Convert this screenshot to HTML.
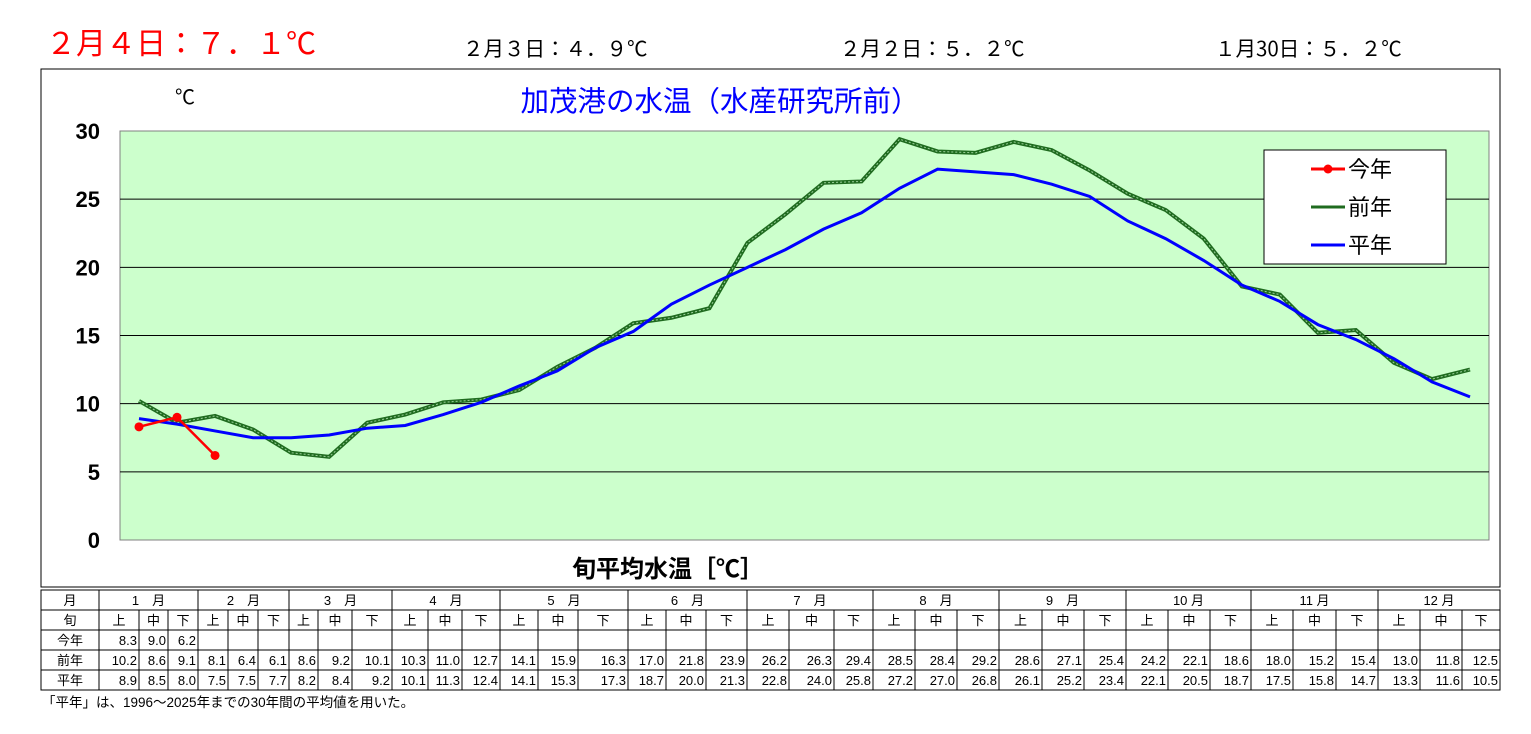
<!DOCTYPE html>
<html><head><meta charset="utf-8">
<style>
body{margin:0;background:#fff;font-family:"Liberation Sans","Noto Sans CJK JP",sans-serif;}
#wrap{position:relative;width:1531px;height:734px;overflow:hidden;}
.t{position:absolute;white-space:nowrap;font-family:"Noto Sans CJK JP",sans-serif;}
</style></head><body>
<div id="wrap">
<div class="t" style="left:46px;top:19px;font-size:30px;line-height:44px;color:#ff0000;">２月４日：７．１℃</div>
<div class="t" style="left:463px;top:32px;font-size:20.5px;line-height:30px;">２月３日：４．９℃</div>
<div class="t" style="left:840px;top:32px;font-size:20.5px;line-height:30px;">２月２日：５．２℃</div>
<div class="t" style="left:1215px;top:32px;font-size:20.5px;line-height:30px;">１月30日：５．２℃</div>
<svg id="chart" width="1531" height="734" style="position:absolute;left:0;top:0" font-family="Liberation Sans, Noto Sans CJK JP, sans-serif"></svg>
</div>
<script>
const yTicks=[0,5,10,15,20,25,30];
const months=["1　月","2　月","3　月","4　月","5　月","6　月","7　月","8　月","9　月","10 月","11 月","12 月"];
const junList=["上","中","下"];
const thisYear=[8.3,9.0,6.2];
const lastYear=[10.2,8.6,9.1,8.1,6.4,6.1,8.6,9.2,10.1,10.3,11.0,12.7,14.1,15.9,16.3,17.0,21.8,23.9,26.2,26.3,29.4,28.5,28.4,29.2,28.6,27.1,25.4,24.2,22.1,18.6,18.0,15.2,15.4,13.0,11.8,12.5];
const normal=[8.9,8.5,8.0,7.5,7.5,7.7,8.2,8.4,9.2,10.1,11.3,12.4,14.1,15.3,17.3,18.7,20.0,21.3,22.8,24.0,25.8,27.2,27.0,26.8,26.1,25.2,23.4,22.1,20.5,18.7,17.5,15.8,14.7,13.3,11.6,10.5];
const colEdges=[99,139,168,198,228,258,289,318,352,392,428,462,500,538,578,628,666,706,747,789,834,873,915,957,999,1042,1084,1126,1168,1210,1251,1293,1336,1378,1420,1462,1500];

const NS="http://www.w3.org/2000/svg";
const svg=document.getElementById('chart');
function mk(tag,attrs,parent){const e=document.createElementNS(NS,tag);for(const k in attrs)e.setAttribute(k,attrs[k]);(parent||svg).appendChild(e);return e;}
const PX0=120,PX1=1489,PY0=131,PY1=540;
const yS=v=>PY1-(v/30)*(PY1-PY0);
const xS=i=>139+i*(1470-139)/35;

let e=mk('rect',{x:41,y:69,width:1459,height:518,fill:'#fff',stroke:'#000','stroke-width':1});


e=mk('rect',{x:PX0,y:PY0,width:PX1-PX0,height:PY1-PY0,fill:'#ccffcc',stroke:'#808080','stroke-width':1});


yTicks.forEach(v=>{
  if(v>0&&v<30){const g=mk('line',{x1:PX0,x2:PX1,y1:yS(v),y2:yS(v),stroke:'#000','stroke-width':1});
  
  }
  const t=mk('text',{x:100,y:yS(v)+8,'text-anchor':'end','font-size':22,'font-weight':'bold'});t.textContent=v;
  
  
});
e=mk('text',{x:175,y:104,'font-size':20});e.textContent='℃';


e=mk('text',{x:720,y:111,'text-anchor':'middle','font-size':28.5,fill:'#0000ff'});e.textContent='加茂港の水温（水産研究所前）';


e=mk('text',{x:668,y:577,'text-anchor':'middle','font-size':24,'font-weight':'bold'});e.textContent='旬平均水温［℃］';



function pts(arr){return arr.map((v,i)=>xS(i)+','+yS(v)).join(' ');}
e=mk('polyline',{points:pts(lastYear),fill:'none',stroke:'#1f6b1f','stroke-width':4});


e=mk('polyline',{points:pts(lastYear),fill:'none',stroke:'#9ad09a','stroke-width':1,'stroke-dasharray':'2 2'});


e=mk('polyline',{points:pts(normal),fill:'none',stroke:'#0000ff','stroke-width':3});


e=mk('polyline',{points:pts(thisYear),fill:'none',stroke:'#ff0000','stroke-width':2.5});


thisYear.forEach((v,i)=>{const c=mk('circle',{cx:xS(i),cy:yS(v),r:4.5,fill:'#ff0000'});

});

// legend
e=mk('rect',{x:1264,y:150,width:182,height:114,fill:'#fff',stroke:'#000','stroke-width':1});


const lg=[['今年','#ff0000',169],['前年','#1f6b1f',207],['平年','#0000ff',245]];
lg.forEach((l,i)=>{
  const ln=mk('line',{x1:1311,x2:1345,y1:l[2],y2:l[2],stroke:l[1],'stroke-width':3});
  
  
  if(i==0){const c=mk('circle',{cx:1328,cy:l[2],r:4.5,fill:'#ff0000'});}
  const t=mk('text',{x:1348,y:l[2]+8,'font-size':22});t.textContent=l[0];
  
  
});

// table
const TL=41,TR=1500,rowY=[590,610,630,650,670,690];
e=mk('rect',{x:TL,y:590,width:TR-TL,height:100,fill:'none',stroke:'#000','stroke-width':1});


rowY.slice(1,5).forEach(y=>{const l=mk('line',{x1:TL,x2:TR,y1:y,y2:y,stroke:'#000','stroke-width':1});});
colEdges.forEach((x,i)=>{const l=mk('line',{x1:x,x2:x,y1:(i%3==0)?590:610,y2:690,stroke:'#000','stroke-width':1});});
function tt(x,y,s,anchor,name,fs){const t=mk('text',{x:x,y:y,'font-size':fs||13,'text-anchor':anchor});t.textContent=s;}
const labs=['月','旬','今年','前年','平年'];
labs.forEach((s,r)=>tt(70,rowY[r]+15,s,'middle','row-label'));
months.forEach((m,i)=>tt((colEdges[i*3]+colEdges[i*3+3])/2,605,m,'middle','month-label'));
for(let i=0;i<36;i++){
  tt((colEdges[i]+colEdges[i+1])/2,625,junList[i%3],'middle','jun-label');
  if(i<thisYear.length)tt(colEdges[i+1]-2,645,thisYear[i].toFixed(1),'end','this-year-value');
  tt(colEdges[i+1]-2,665,lastYear[i].toFixed(1),'end','last-year-value');
  tt(colEdges[i+1]-2,685,normal[i].toFixed(1),'end','normal-value');
}
tt(42,707,'「平年」は、1996～2025年までの30年間の平均値を用いた。','start','footnote',13.5);
</script>
</body></html>
